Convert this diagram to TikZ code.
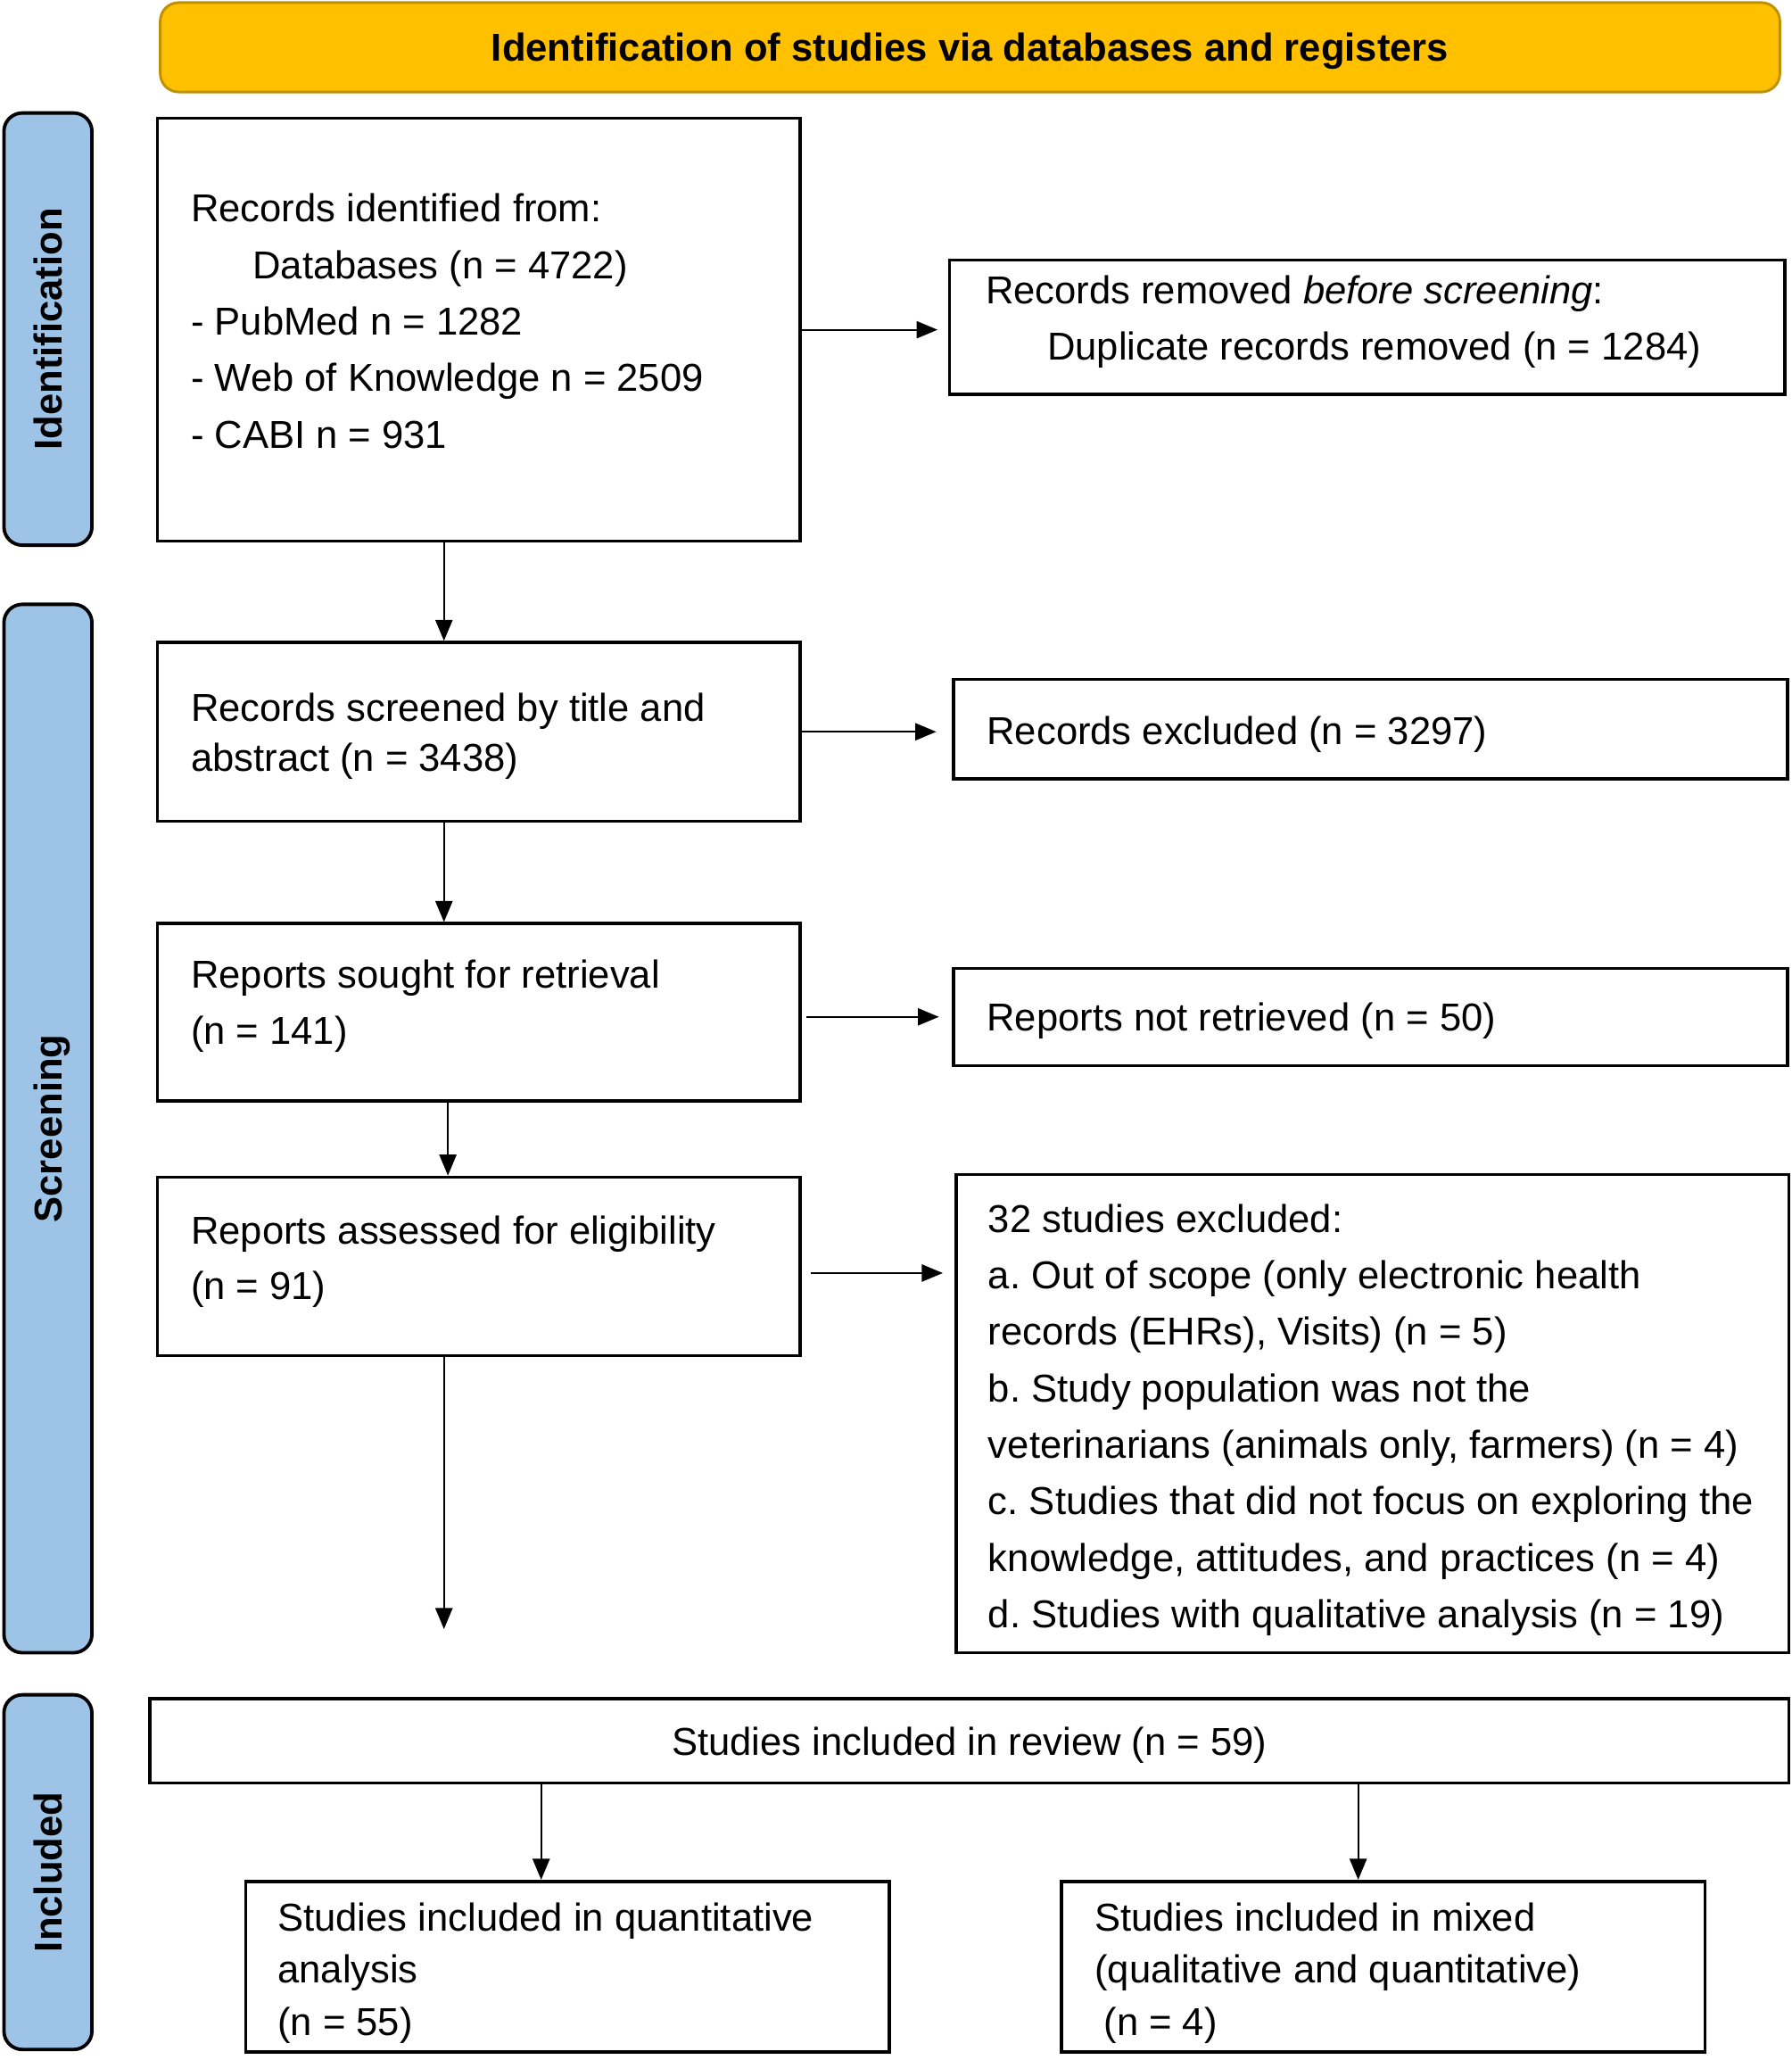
\documentclass[tikz,border=0pt]{standalone}
\usepackage{fontspec}
\setmainfont{Liberation Sans}
\usetikzlibrary{arrows.meta}
\definecolor{gold}{HTML}{FFC000}
\definecolor{goldline}{HTML}{BF9000}
\definecolor{barblue}{HTML}{9DC3E6}
\frenchspacing
\begin{document}
\begin{tikzpicture}[x=0.5pt,y=-0.5pt,
  box/.style={draw, line width=1.2pt, inner sep=0pt},
  txt/.style={anchor=base west, align=flush left, text width=330pt, inner sep=0pt, font=\fontsize{14.8}{21.5}\selectfont},
  ctxt/.style={anchor=base, inner sep=0pt, font=\fontsize{14.8}{21.5}\selectfont},
  bar/.style={draw, line width=1.3pt, fill=barblue, rounded corners=7pt, minimum width=33.5pt, inner sep=0pt},
  bartxt/.style={rotate=90, inner sep=0pt, text depth=0pt, font=\fontsize{14.8}{18}\selectfont\bfseries},
  arr/.style={line width=0.7pt, -{Triangle[length=8pt,width=6.5pt]}}]
\useasboundingbox (0,0) rectangle (1364,1568);

% header
\node[draw=goldline, line width=1pt, fill=gold, rounded corners=7pt, minimum width=616.5pt, minimum height=34pt, inner sep=0pt, text depth=0pt, font=\fontsize{14.8}{18}\selectfont\bfseries] (hdr) at (738.5,36) {Identification of studies via databases and registers};

% side bars
\node[bar, minimum height=164.5pt] (barid) at (36.5,250.5) {};
\node[bartxt] (baridt) at (barid.center) {Identification};
\node[bar, minimum height=399pt] (barsc) at (36.5,859) {};
\node[bartxt] (barsct) at (barsc.center) {Screening};
\node[bar, minimum height=135pt] (barin) at (36.5,1425) {};
\node[bartxt] (barint) at (barin.center) {Included};

% boxes
\node[box, minimum width=244.5pt, minimum height=161pt] (b1) at (364.5,251) {};
\node[box, minimum width=318pt, minimum height=51pt] (b2) at (1041,249) {};
\node[box, minimum width=244.5pt, minimum height=68pt] (b3) at (364.5,557) {};
\node[box, minimum width=317.5pt, minimum height=38pt] (b4) at (1043.5,555) {};
\node[box, minimum width=244.5pt, minimum height=67.5pt] (b5) at (364.5,770.5) {};
\node[box, minimum width=317.5pt, minimum height=37pt] (b6) at (1043.5,774) {};
\node[box, minimum width=244.5pt, minimum height=68pt] (b7) at (364.5,964) {};
\node[box, minimum width=317pt, minimum height=182pt] (b8) at (1045,1076) {};
\node[box, minimum width=624pt, minimum height=32pt] (b9) at (738,1325) {};
\node[box, minimum width=245pt, minimum height=65pt] (b10) at (432,1497) {};
\node[box, minimum width=245pt, minimum height=65pt] (b11) at (1053,1497) {};

% texts
\node[txt] (t1) at (145,169) {Records identified from:\\\hspace*{23.5pt}Databases (n = 4722)\\- PubMed n = 1282\\- Web of Knowledge n = 2509\\- CABI n = 931};
\node[txt] (t2) at (750,231) {Records removed \textit{before screening}:\\\hspace*{23.5pt}Duplicate records removed (n = 1284)};
\node[txt, font=\fontsize{14.8}{19}\selectfont] (t3) at (145,549) {Records screened by title and\\abstract (n = 3438)};
\node[txt] (t4) at (751,567) {Records excluded (n = 3297)};
\node[txt] (t5) at (145,752) {Reports sought for retrieval\\(n = 141)};
\node[txt] (t6) at (751,785) {Reports not retrieved (n = 50)};
\node[txt, font=\fontsize{14.8}{21}\selectfont] (t7) at (145,947) {Reports assessed for eligibility\\(n = 91)};
\node[txt] (t8) at (752,938) {32 studies excluded:\\a. Out of scope (only electronic health\\records (EHRs), Visits) (n = 5)\\b. Study population was not the\\veterinarians (animals only, farmers) (n = 4)\\c. Studies that did not focus on exploring the\\knowledge, attitudes, and practices (n = 4)\\d. Studies with qualitative analysis (n = 19)};
\node[ctxt] (t9) at (738,1336) {Studies included in review (n = 59)};
\node[txt, font=\fontsize{14.8}{19.75}\selectfont] (t10) at (211,1470) {Studies included in quantitative\\analysis\\(n = 55)};
\node[txt, font=\fontsize{14.8}{19.75}\selectfont] (t11) at (833,1470) {Studies included in mixed\\(qualitative and quantitative)\\\hspace*{3.5pt}(n = 4)};

% connectors
\draw[arr] ([xshift=-13.25pt]b1.south) -- ([xshift=-13.25pt]b1.south |- b3.north);
\draw[arr] ([xshift=-13.25pt]b3.south) -- ([xshift=-13.25pt]b3.south |- b5.north);
\draw[arr] ([xshift=-11.75pt]b5.south) -- ([xshift=-11.75pt]b5.south |- b7.north);
\coordinate (e7) at (338,1240);
\draw[arr] (b7.south -| e7) -- (e7);

\draw[arr, shorten >=4pt] (b1.east) -- (b1.east -| b2.west);
\draw[arr, shorten >=6pt] (b3.east) -- (b3.east -| b4.west);
\draw[arr, shorten <=2pt, shorten >=5pt] (b6.west -| b5.east) -- (b6.west);
\draw[arr, shorten <=3.5pt, shorten >=4.5pt] ([yshift=-2.5pt]b7.east) -- ([yshift=-2.5pt]b7.east -| b8.west);

\coordinate (b10n) at ([xshift=-10pt]b10.north);
\coordinate (b11n) at ([xshift=-9.5pt]b11.north);
\draw[arr] (b9.south -| b10n) -- (b10n);
\draw[arr] (b9.south -| b11n) -- (b11n);
\end{tikzpicture}
\end{document}
